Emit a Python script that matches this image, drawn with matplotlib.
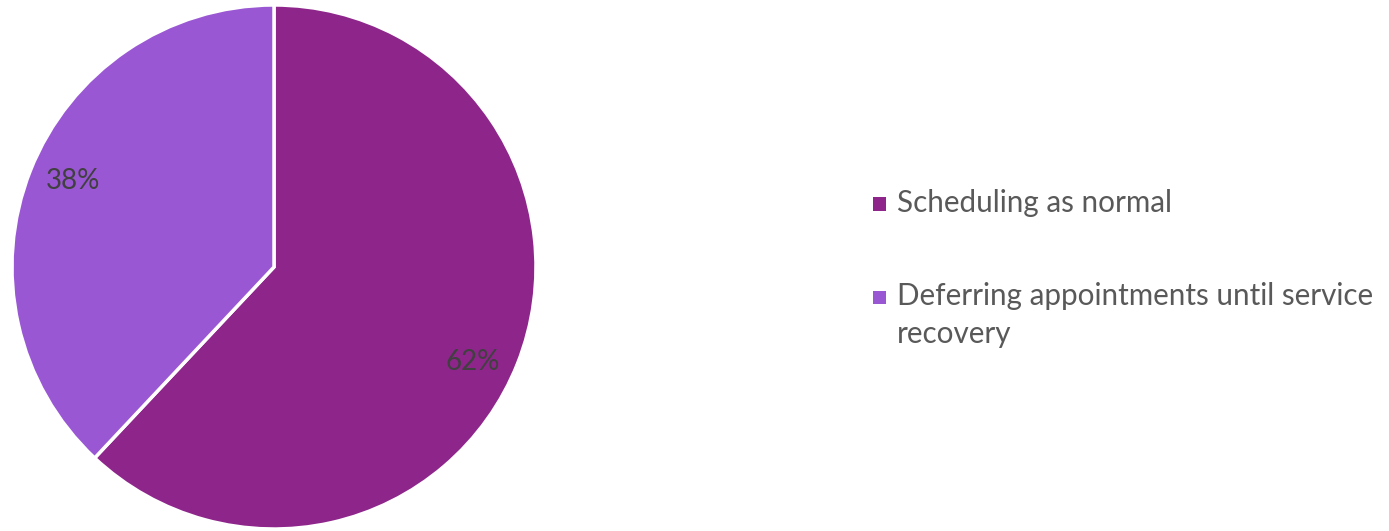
import numpy as np
import matplotlib
matplotlib.use("Agg")
import matplotlib.pyplot as plt
from matplotlib.patches import Rectangle

categories = ["Scheduling as normal", "Deferring appointments until service\nrecovery"]
shares = [62, 38]
colors = ["#8E258B", "#9A57D3"]

plt.rcParams["font.family"] = ["Lato", "DejaVu Sans"]

W, H = 1389, 531
fig = plt.figure(figsize=(W / 100, H / 100), dpi=100)
ax = fig.add_axes([12 / W, 2 / H, 524 / W, 524 / H])

wedges, texts, autotexts = ax.pie(
    shares,
    colors=colors,
    startangle=90,
    counterclock=False,
    autopct="%d%%",
    pctdistance=0.84,
    wedgeprops=dict(edgecolor="white", linewidth=2.5),
    textprops=dict(color="#404040", fontsize=20),
    radius=1,
)
ax.set_xlim(-1, 1)
ax.set_ylim(-1, 1)
ax.set_aspect("equal")

# Best-fit style placement: nudge each percentage label along its wedge
label_shift_deg = [-4.0, -1.6]
label_radius = [0.84, 0.835]
for w, t, shift, r in zip(wedges, autotexts, label_shift_deg, label_radius):
    ang = np.deg2rad((w.theta1 + w.theta2) / 2 + shift)
    t.set_position((r * np.cos(ang), r * np.sin(ang)))

# Legend: colour square beside the first line of each label
legend_x = 873
text_x = 897
entry_y = [204, 297]
sq = 13
for label, color, y in zip(categories, colors, entry_y):
    fig.patches.append(
        Rectangle((legend_x / W, 1 - (y + sq / 2) / H), sq / W, sq / H,
                  transform=fig.transFigure, facecolor=color, edgecolor="none")
    )
    fig.text(text_x / W, 1 - (y - 15) / H, label, ha="left", va="top",
             fontsize=21.3, color="#595959", linespacing=1.45)

fig.savefig("out.png", dpi=100, facecolor="white")
